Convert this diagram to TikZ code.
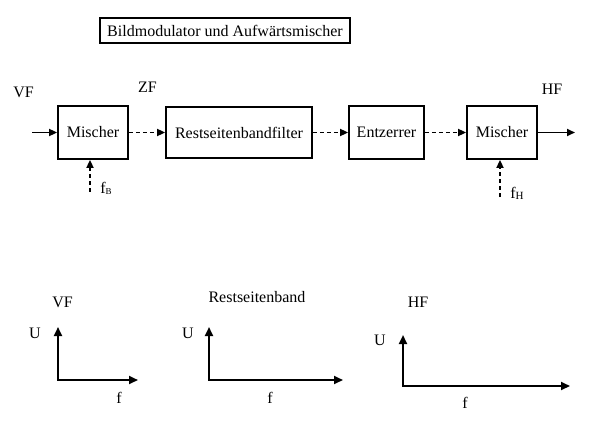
\documentclass[tikz,border=0pt]{standalone}
\usepackage{fontspec}
\setmainfont{Liberation Serif}
\usetikzlibrary{arrows.meta, positioning}

\begin{document}
\begin{tikzpicture}[
  x=1pt, y=-1pt,
  every node/.style={font=\fontsize{16}{19}\selectfont, inner sep=0pt},
  blockbox/.style={draw, line width=1.8pt, anchor=center, minimum height=53pt},
  sig/.style={line width=1.7pt, -{Triangle[length=8pt, width=7pt]}},
  dsig/.style={sig, dash pattern=on 4pt off 3pt},
  axis/.style={line width=2.2pt, {Triangle[length=9pt, width=8pt]}-{Triangle[length=9pt, width=8pt]}}
]
  \useasboundingbox (0,0) rectangle (600,425);

  % title
  \node[draw, line width=1.6pt, minimum width=250pt, minimum height=25pt] (title) at (225,30.5) {Bildmodulator und Aufw\"artsmischer};

  % signal chain
  \node[blockbox, minimum width=70pt] (mix1) at (93,132.5) {Mischer};
  \node[blockbox, minimum width=146pt, minimum height=51pt] (rsb) at (239,132.5) {Restseitenbandfilter};
  \node[blockbox, minimum width=75pt] (eq) at (386.5,132.5) {Entzerrer};
  \node[blockbox, minimum width=70pt] (mix2) at (502,132.5) {Mischer};

  \coordinate (vfin) at (32,132.5);
  \coordinate (hfout) at (575,132.5);
  \coordinate (fb) at (90,192);
  \coordinate (fh) at (500,197);

  \draw[sig] (vfin) -- (mix1);
  \draw[dsig] (mix1) -- (rsb);
  \draw[dsig] (rsb) -- (eq);
  \draw[dsig] (eq) -- (mix2);
  \draw[sig] (mix2) -- (hfout);
  \draw[dsig] (fb) -- (fb |- mix1.south);
  \draw[dsig] (fh) -- (fh |- mix2.south);

  \node (vf) at (23.5,92) {VF};
  \node (zf) at (147.5,87) {ZF};
  \node (hf) at (552,89) {HF};
  \node (fblbl) at (106,188) {f\raisebox{-1pt}{\fontsize{9}{10}\selectfont B}};
  \node (fhlbl) at (517,193) {f\raisebox{-1pt}{\fontsize{11}{12}\selectfont H}};

  % spectra
  \draw[axis] (58,327) |- (138,380);
  \node (u1) at (35,333) {U};
  \node (vf1) at (62.5,302) {VF};
  \node (f1) at (119,398) {f};

  \draw[axis] (209,327) |- (343,380);
  \node (u2) at (188,333) {U};
  \node (rsb2) at (257,297) {Restseitenband};
  \node (f2) at (270,398) {f};

  \draw[axis] (403,335) |- (570,386);
  \node (u3) at (380,340) {U};
  \node (hf3) at (418,302) {HF};
  \node (f3) at (465,403) {f};
\end{tikzpicture}
\end{document}
